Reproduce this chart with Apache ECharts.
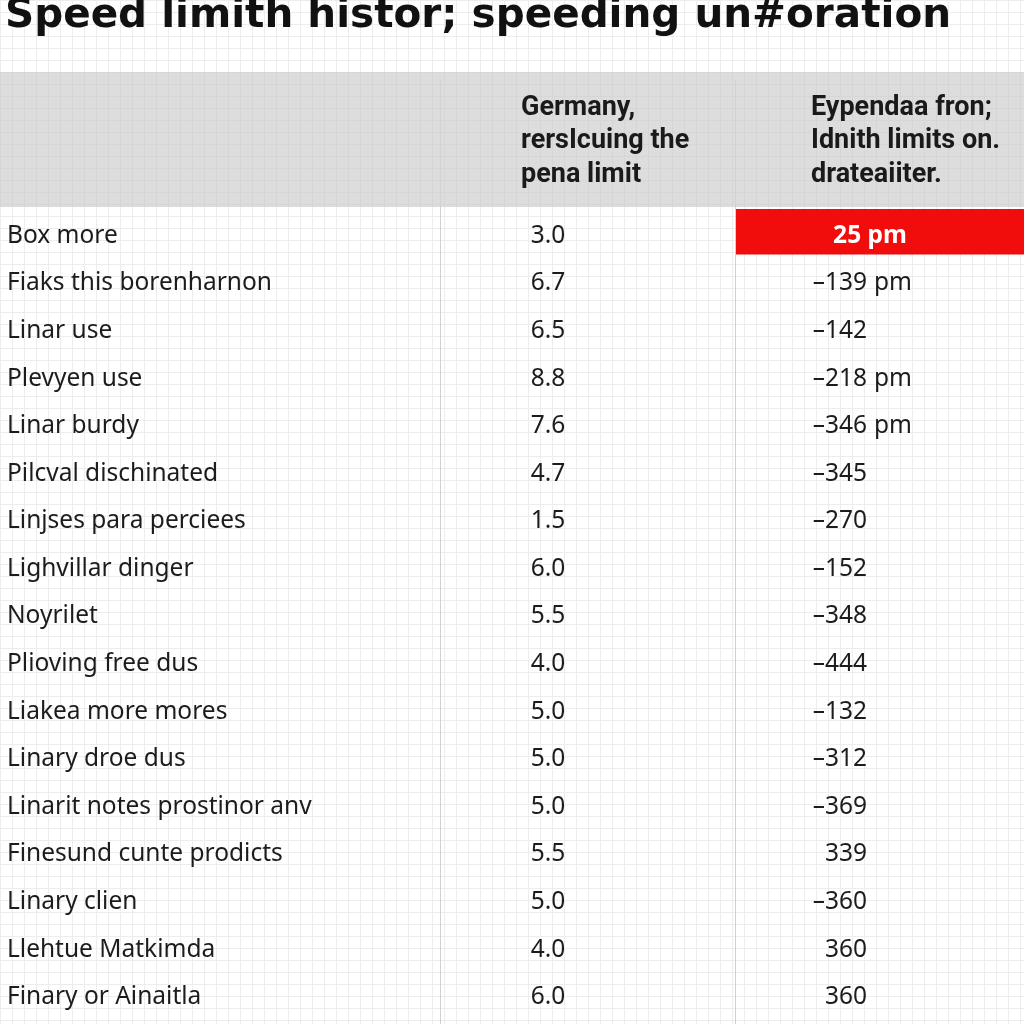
<!DOCTYPE html>
<html>
<head>
<meta charset="utf-8">
<script src="https://cdn.jsdelivr.net/npm/echarts@6/dist/echarts.min.js"></script>
<style>
html,body{margin:0;padding:0;}
body{
  width:1024px;height:1024px;overflow:hidden;background-color:#ffffff;
  background-image:linear-gradient(#ededed 1px, transparent 1px),linear-gradient(90deg,#ededed 1px, transparent 1px);
  background-size:12px 12px;
}
#chart{width:1024px;height:1024px;}
</style>
</head>
<body>
<div id="chart"></div>
<script>
const titleText = 'Speed limith histor; speeding un#oration';
const headerCol2 = ['Germany,', 'rersIcuing the', 'pena limit'];
const headerCol3 = ['Eypendaa fron;', 'Idnith limits on.', 'drateaiiter.'];
const rowLabels = [
  'Box more', 'Fiaks this borenharnon', 'Linar use', 'Plevyen use', 'Linar burdy',
  'Pilcval dischinated', 'Linjses para perciees', 'Lighvillar dinger', 'Noyrilet',
  'Plioving free dus', 'Liakea more mores', 'Linary droe dus', 'Linarit notes prostinor anv',
  'Finesund cunte prodicts', 'Linary clien', 'Llehtue Matkimda', 'Finary or Ainaitla'
];
const germanyValues = [3.0, 6.7, 6.5, 8.8, 7.6, 4.7, 1.5, 6.0, 5.5, 4.0, 5.0, 5.0, 5.0, 5.5, 5.0, 4.0, 6.0];
const limitValues = [25, -139, -142, -218, -346, -345, -270, -152, -348, -444, -132, -312, -369, 339, -360, 360, 360];
const limitUnits = ['pm', 'pm', '', 'pm', 'pm', '', '', '', '', '', '', '', '', '', '', '', ''];
const highlightRows = [0];

const chart = echarts.init(document.getElementById('chart'), null, {renderer: 'canvas'});
const bodyFont = '"Noto Sans", Lato, sans-serif';
const FS = 24.5;
const COL2_X = 548, COL3_X = 867, RED_X0 = 736, RED_TEXT_X = 870;

const option = {
  backgroundColor: 'transparent',
  animation: false,
  grid: {left: 0, right: 0, top: 212, bottom: 3},
  xAxis: {type: 'value', min: 0, max: 1024, show: false},
  yAxis: {
    type: 'category', inverse: true, data: rowLabels,
    axisLine: {show: false}, axisTick: {show: false}, splitLine: {show: false},
    axisLabel: {inside: true, margin: 7, align: 'left', color: '#1c1c1c', fontSize: FS, fontFamily: bodyFont}
  },
  graphic: [
    {type: 'rect', shape: {x: 0, y: 72, width: 1024, height: 135}, style: {fill: 'rgba(200,200,200,0.62)'}, z: -1},
    {type: 'line', shape: {x1: 440.5, y1: 80, x2: 440.5, y2: 1024}, style: {stroke: '#d2d2d2', lineWidth: 1}},
    {type: 'line', shape: {x1: 735.5, y1: 80, x2: 735.5, y2: 1024}, style: {stroke: '#d2d2d2', lineWidth: 1}},
    {type: 'text', x: 5, y: -4, style: {text: titleText, font: 'bold 40.5px "DejaVu Sans", sans-serif', fill: '#111'}},
    {type: 'text', x: 521, y: 91, style: {text: headerCol2.join('\n'), font: 'bold 27px Roboto, sans-serif', lineHeight: 33.5, fill: '#1a1a1a'}},
    {type: 'text', x: 811, y: 91, style: {text: headerCol3.join('\n'), font: 'bold 27px Roboto, sans-serif', lineHeight: 33.5, fill: '#1a1a1a'}}
  ],
  series: [{
    type: 'custom',
    data: rowLabels.map((_, i) => [0, i]),
    encode: {x: 0, y: 1},
    renderItem: function (params, api) {
      const i = api.value(1);
      const y = api.coord([0, i])[1];
      const bandH = api.size([0, 1])[1];
      const children = [];
      children.push({type: 'text', style: {
        x: api.coord([COL2_X, i])[0], y: y, text: germanyValues[i].toFixed(1),
        align: 'center', verticalAlign: 'middle', fontSize: FS, fontFamily: bodyFont, fill: '#1c1c1c'}});
      const unit = limitUnits[i];
      if (highlightRows.indexOf(i) >= 0) {
        const x0 = api.coord([RED_X0, i])[0];
        const x1 = api.coord([1024, i])[0];
        children.push({type: 'rect', shape: {x: x0, y: y - bandH / 2 - 3, width: x1 - x0, height: bandH - 2}, style: {fill: '#f20d0d'}});
        children.push({type: 'text', style: {
          x: api.coord([RED_TEXT_X, i])[0], y: y, text: limitValues[i] + (unit ? ' ' + unit : ''),
          align: 'center', verticalAlign: 'middle', fontSize: FS, fontWeight: 'bold', fontFamily: bodyFont, fill: '#ffffff'}});
      } else {
        const xr = api.coord([COL3_X, i])[0];
        children.push({type: 'text', style: {
          x: xr, y: y, text: String(limitValues[i]).replace('-', '\u2013'),
          align: 'right', verticalAlign: 'middle', fontSize: FS, fontFamily: bodyFont, fill: '#1c1c1c'}});
        if (unit) {
          children.push({type: 'text', style: {
            x: xr + 7, y: y, text: unit,
            align: 'left', verticalAlign: 'middle', fontSize: FS, fontFamily: bodyFont, fill: '#1c1c1c'}});
        }
      }
      return {type: 'group', children: children};
    }
  }]
};
chart.setOption(option);
</script>
</body>
</html>
